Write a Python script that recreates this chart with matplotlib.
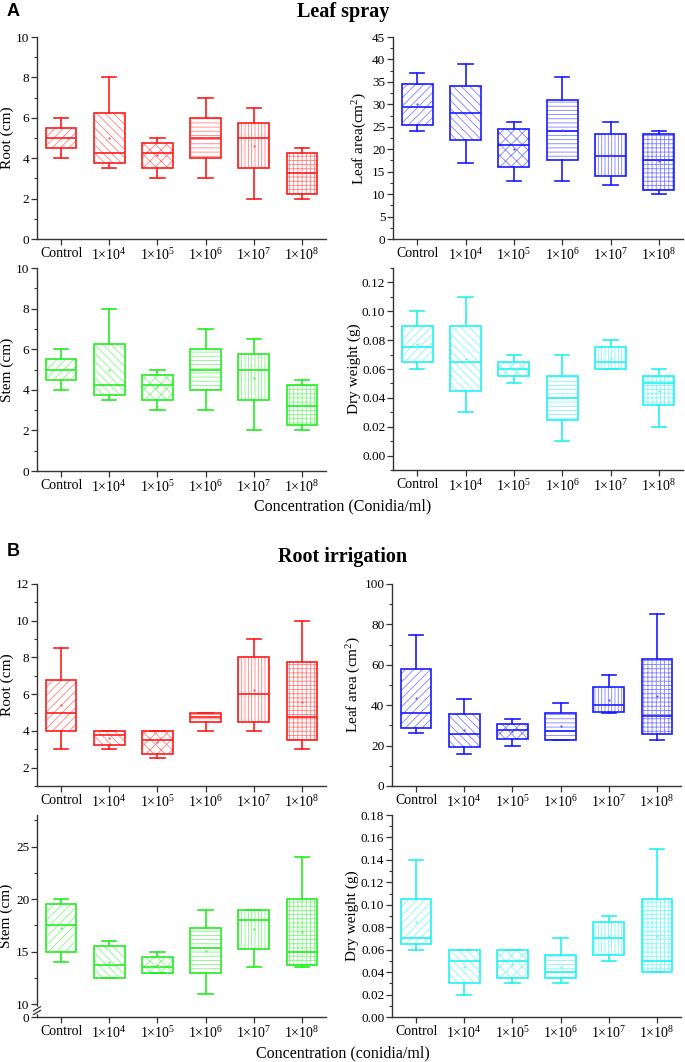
import matplotlib
matplotlib.use("Agg")
import numpy as np
from matplotlib import pyplot as plt
from matplotlib.patches import PathPatch
from matplotlib.ticker import MultipleLocator

plt.rcParams['font.family'] = 'serif'
plt.rcParams['font.serif'] = ['Liberation Serif', 'DejaVu Serif']
plt.rcParams['mathtext.fontset'] = 'custom'
plt.rcParams['mathtext.rm'] = 'Liberation Serif'
plt.rcParams['mathtext.it'] = 'Liberation Serif:italic'
plt.rcParams['hatch.linewidth'] = 0.6

# categories
groups = ['Control', '1×10$^4$', '1×10$^5$', '1×10$^6$', '1×10$^7$', '1×10$^8$']
hatches = ['////', '\\\\\\\\', 'xxx', '----', '|||||', '++++']

# box stats per group: (whislo, q1, med, q3, whishi)
# --- A: leaf spray
a_root = [(4, 4.5, 5, 5.5, 6), (3.5, 3.75, 4.25, 6.25, 8), (3, 3.5, 4.25, 4.75, 5),
          (3, 4, 5, 6, 7), (2, 3.5, 5, 5.75, 6.5), (2, 2.25, 3.25, 4.25, 4.5)]
a_root_mean = [5.0, 5.0, 4.15, 5.0, 4.6, 3.25]

a_leaf = [(24, 25.5, 29.5, 34.5, 37), (17, 22, 28, 34, 39), (13, 16, 21, 24.5, 26),
          (13, 17.5, 24, 31, 36), (12, 14, 18.5, 23.5, 26), (10, 11, 17.5, 23.5, 24)]
a_leaf_mean = [30, 28, 20.1, 24.2, 18.7, 17.3]

a_stem = [(4, 4.5, 5, 5.5, 6), (3.5, 3.75, 4.25, 6.25, 8), (3, 3.5, 4.25, 4.75, 5),
          (3, 4, 5, 6, 7), (2, 3.5, 5, 5.75, 6.5), (2, 2.25, 3.2, 4.25, 4.5)]
a_stem_mean = [5.0, 5.0, 4.15, 5.0, 4.6, 3.25]

a_dry = [(0.06, 0.065, 0.075, 0.09, 0.10), (0.03, 0.045, 0.065, 0.09, 0.11),
         (0.05, 0.055, 0.06, 0.065, 0.07), (0.01, 0.025, 0.04, 0.055, 0.07),
         (0.06, 0.06, 0.065, 0.075, 0.08), (0.02, 0.035, 0.05, 0.055, 0.06)]
a_dry_mean = [0.077, 0.067, 0.06, 0.04, 0.0675, 0.045]

# --- B: root irrigation
b_root = [(3, 4, 5, 6.75, 8.5), (3, 3.25, 3.75, 4, 4), (2.5, 2.75, 3.5, 4, 4),
          (4, 4.5, 4.75, 5, 5), (4, 4.5, 6, 8, 9), (3, 3.5, 4.75, 7.75, 10)]
b_root_mean = [5.4, 3.6, 3.4, 4.75, 6.25, 5.6]

b_leaf = [(26, 28.5, 36, 58, 75), (16, 19.5, 25.5, 35.5, 43), (20, 23.5, 27.5, 30.5, 33),
          (23, 23, 27, 36, 41), (36, 36.5, 40, 49, 55), (23, 25.5, 34.5, 63, 85)]
b_leaf_mean = [43.5, 27.5, 27, 29.5, 42.8, 44.5]

b_stem = [(14, 15, 17.5, 19.5, 20), (12.5, 12.5, 13.75, 15.5, 16), (13, 13, 13.5, 14.5, 15),
          (11, 13, 15.3, 17.25, 19), (13.5, 15.25, 18, 19, 19), (13.5, 13.75, 15, 20, 24)]
b_stem_mean = [17.25, 14, 13.75, 15.1, 17.1, 16.9]

b_dry = [(0.06, 0.065, 0.07, 0.105, 0.14), (0.02, 0.03, 0.05, 0.06, 0.06),
         (0.03, 0.035, 0.05, 0.06, 0.06), (0.03, 0.035, 0.04, 0.055, 0.07),
         (0.05, 0.055, 0.07, 0.085, 0.09), (0.04, 0.04, 0.05, 0.105, 0.15)]
b_dry_mean = [0.085, 0.045, 0.0475, 0.045, 0.072, 0.072]

RED, BLUE, GREEN, CYAN = '#ff1a1a', '#1a1aff', '#22ee22', '#22f2f2'

W, H = 685, 1062
fig = plt.figure(figsize=(W / 100, H / 100), dpi=100)


def make_ax(l, t, r, b):
    return fig.add_axes([l / W, 1 - b / H, (r - l) / W, (b - t) / H])


def light(c, k=0.45):
    rgb = np.array(matplotlib.colors.to_rgb(c))
    return tuple(rgb + (1 - rgb) * k)


def draw_panel(ax, data, means, color, ylim, major, minor, ylabel, labx):
    stats = []
    for (lo, q1, med, q3, hi), m in zip(data, means):
        stats.append(dict(whislo=lo, q1=q1, med=med, q3=q3, whishi=hi, mean=m, fliers=[]))
    pos = np.arange(1, len(groups) + 1)
    lp = dict(color=color, linewidth=1.2)
    bp = ax.bxp(stats, positions=pos, widths=0.64, capwidths=0.3, patch_artist=True,
                showmeans=True, showfliers=False,
                boxprops=dict(facecolor='none', edgecolor=color, linewidth=1.2),
                whiskerprops=lp, capprops=lp, medianprops=lp,
                meanprops=dict(marker='s', markersize=0.9, markerfacecolor=color,
                               markeredgecolor=light(color, 0.3), markeredgewidth=0.5))
    for box, h in zip(bp['boxes'], hatches):
        hp = PathPatch(box.get_path(), facecolor='none', edgecolor=light(color),
                       hatch=h, linewidth=0, zorder=box.get_zorder() - 0.5,
                       transform=ax.transData)
        ax.add_patch(hp)
    ax.set_xlim(0.5, 6.5)
    ax.set_ylim(*ylim)
    ax.set_xticks(pos)
    ax.set_xticklabels(groups)
    ax.yaxis.set_major_locator(MultipleLocator(major))
    ax.yaxis.set_minor_locator(MultipleLocator(minor))
    for s in ['top', 'right']:
        ax.spines[s].set_visible(False)
    for s in ['left', 'bottom']:
        ax.spines[s].set_color('#333333')
        ax.spines[s].set_linewidth(1.0)
    ax.tick_params(axis='x', which='major', direction='out', length=4, width=0.9,
                   pad=2, labelsize=10, color='#333333')
    ax.tick_params(axis='y', which='major', direction='out', length=4, width=0.9,
                   pad=1.5, labelsize=9.5, color='#333333')
    ax.tick_params(axis='y', which='minor', direction='out', length=2, width=0.8,
                   color='#333333')
    ax.set_ylabel(ylabel, fontsize=11)
    ax.yaxis.set_label_coords(labx, 0.5)


# --- A: leaf spray
ax1 = make_ax(37, 37, 326, 239)
draw_panel(ax1, a_root, a_root_mean, RED, (0, 10), 2, 1, 'Root (cm)', -0.08)
ax2 = make_ax(393, 37, 683, 239)
draw_panel(ax2, a_leaf, a_leaf_mean, BLUE, (0, 45), 5, 2.5, 'Leaf area(cm$^2$)', -0.083)
ax3 = make_ax(37, 268, 326, 471)
draw_panel(ax3, a_stem, a_stem_mean, GREEN, (0, 10), 2, 1, 'Stem (cm)', -0.08)
ax4 = make_ax(393, 268, 683, 470)
draw_panel(ax4, a_dry, a_dry_mean, CYAN, (-0.01, 0.13), 0.02, 0.01, 'Dry weight (g)', -0.11)
ax4.set_yticks(np.arange(0, 0.121, 0.02))
ax4.set_yticklabels([f'{v:.2f}' for v in np.arange(0, 0.121, 0.02)])

# --- B: root irrigation
ax5 = make_ax(37, 584, 326, 786)
draw_panel(ax5, b_root, b_root_mean, RED, (1, 12), 2, 1, 'Root (cm)', -0.08)
ax5.set_yticks([2, 4, 6, 8, 10, 12])
ax6 = make_ax(392, 584, 681, 786)
draw_panel(ax6, b_leaf, b_leaf_mean, BLUE, (0, 100), 20, 10, 'Leaf area (cm$^2$)', -0.10)
ax7 = make_ax(37, 815, 326, 1017)
stem_bottom = 8.77
draw_panel(ax7, b_stem, b_stem_mean, GREEN, (stem_bottom, 28), 5, 2.5, 'Stem (cm)', -0.083)
ax7.set_yticks([stem_bottom, 10, 15, 20, 25])
ax7.set_yticklabels(['0', '10', '15', '20', '25'])
ax7.yaxis.set_minor_locator(plt.FixedLocator([12.5, 17.5, 22.5, 27.5]))
# axis break marks
tr = ax7.get_yaxis_transform()
ax7.plot([0, 0], [9.25, 9.6], transform=tr, color='white', lw=2.5, clip_on=False, zorder=5)
for yb in (9.2, 9.55):
    ax7.plot([-0.012, 0.012], [yb - 0.2, yb + 0.2], transform=tr, color='#333333',
             lw=0.9, clip_on=False, zorder=6)
ax8 = make_ax(392, 815, 681, 1017)
draw_panel(ax8, b_dry, b_dry_mean, CYAN, (0, 0.18), 0.02, 0.01, 'Dry weight (g)', -0.114)
ax8.set_yticklabels([f'{v:.2f}' for v in ax8.get_yticks()])

# titles and shared labels
fig.text(13 / W, 1 - 12 / H, 'A', family='Liberation Sans', weight='bold', fontsize=13,
         ha='center', va='center')
fig.text(343 / W, 1 - 12 / H, 'Leaf spray', weight='bold', fontsize=14.5,
         ha='center', va='center')
fig.text(343 / W, 1 - 506 / H, 'Concentration (Conidia/ml)', fontsize=11.5,
         ha='center', va='center')
fig.text(13 / W, 1 - 552 / H, 'B', family='Liberation Sans', weight='bold', fontsize=13,
         ha='center', va='center')
fig.text(343 / W, 1 - 557 / H, 'Root irrigation', weight='bold', fontsize=14.5,
         ha='center', va='center')
fig.text(343 / W, 1 - 1053 / H, 'Concentration (conidia/ml)', fontsize=11.5,
         ha='center', va='center')

fig.savefig('out.png', dpi=100)
